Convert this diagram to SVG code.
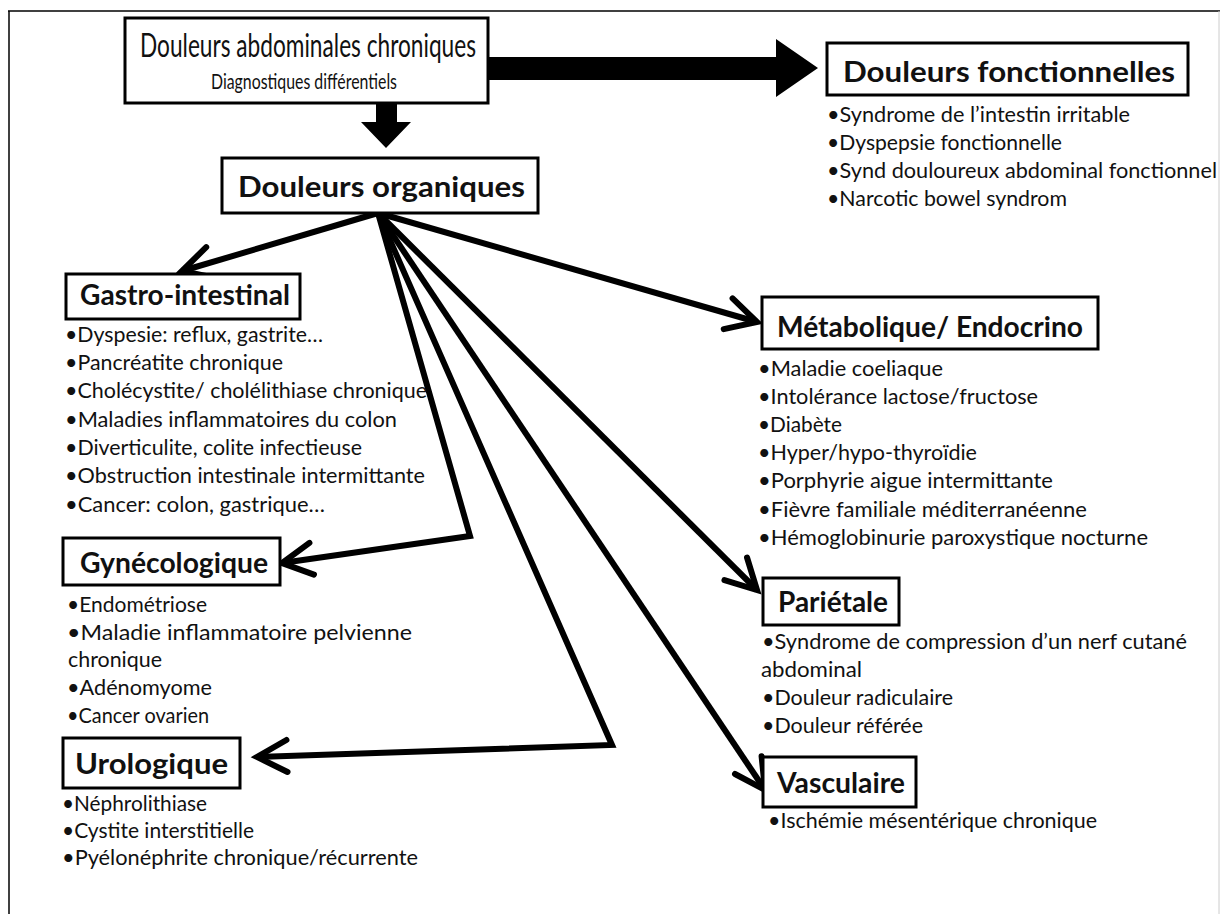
<svg xmlns="http://www.w3.org/2000/svg" width="1220" height="914" viewBox="0 0 1220 914">
<defs>
<style>
.box{fill:#fff;stroke:#000;stroke-width:3}
.hd{font-family:Lato,"Liberation Sans",sans-serif;font-weight:bold;font-size:29px;fill:#111}
.li{font-family:Lato,"Liberation Sans",sans-serif;font-size:21px;fill:#111}
.con{fill:none;stroke:#000;stroke-width:6;stroke-linejoin:miter;stroke-linecap:butt}
</style>
<marker id="chev" markerUnits="userSpaceOnUse" viewBox="-40 -25 50 50" markerWidth="50" markerHeight="50" refX="0" refY="0" orient="auto">
<path d="M -30 -16 L 0 0 L -30 16" fill="none" stroke="#000" stroke-width="6" stroke-linecap="round" stroke-linejoin="miter"/>
</marker>
</defs>
<rect width="1220" height="914" fill="#fff"/>
<g id="frame">
<line x1="8" y1="11" x2="1220" y2="11" stroke="#000" stroke-width="1.5"/>
<line x1="9" y1="11" x2="9" y2="914" stroke="#000" stroke-width="1.5"/>
<line x1="1219" y1="11" x2="1219" y2="914" stroke="#ccc" stroke-width="1"/>
</g>
<g id="connectors">
<polygon points="488,57 776,57 776,39 818,68 776,97 776,80 488,80" fill="#000"/>
<polygon points="376,103 397,103 397,122 411,122 386,148 361,122 376,122" fill="#000"/>
<path class="con" d="M 378 213 L 182 271" marker-end="url(#chev)"/>
<path class="con" d="M 378 213 L 757 322" marker-end="url(#chev)"/>
<path class="con" d="M 378 213 L 470 536 L 282 563" marker-end="url(#chev)"/>
<path class="con" d="M 378 213 L 612 745 L 257 757" marker-end="url(#chev)"/>
<path class="con" d="M 378 213 L 757 590" marker-end="url(#chev)"/>
<path class="con" d="M 378 213 L 765 790" marker-end="url(#chev)"/>
</g>
<g id="n-root">
<rect class="box" x="125" y="18" width="363" height="85"/>
<text x="140" y="57" font-family="Lato,'Liberation Sans',sans-serif" font-size="33" fill="#111" textLength="336" lengthAdjust="spacingAndGlyphs">Douleurs abdominales chroniques</text>
<text x="211" y="89" font-family="Lato,'Liberation Sans',sans-serif" font-size="21" fill="#111" textLength="186" lengthAdjust="spacingAndGlyphs">Diagnostiques différentiels</text>
</g>
<g id="n-fonct">
<rect class="box" x="827" y="43" width="361" height="52"/>
<text class="hd" x="843" y="82" font-size="32" textLength="332" lengthAdjust="spacingAndGlyphs">Douleurs fonctionnelles</text>
<text class="li" x="827" y="122" textLength="303" lengthAdjust="spacingAndGlyphs">•Syndrome de l’intestin irritable</text>
<text class="li" x="827" y="150" textLength="235" lengthAdjust="spacingAndGlyphs">•Dyspepsie fonctionnelle</text>
<text class="li" x="827" y="178" textLength="390" lengthAdjust="spacingAndGlyphs">•Synd douloureux abdominal fonctionnel</text>
<text class="li" x="827" y="206" textLength="240" lengthAdjust="spacingAndGlyphs">•Narcotic bowel syndrom</text>
</g>
<g id="n-org">
<rect class="box" x="222" y="158" width="316" height="55"/>
<text class="hd" x="238" y="197" font-size="31" textLength="287" lengthAdjust="spacingAndGlyphs">Douleurs organiques</text>
</g>
<g id="n-gastro">
<rect class="box" x="66" y="274" width="234" height="45"/>
<text class="hd" x="80" y="305" textLength="210" lengthAdjust="spacingAndGlyphs">Gastro-intestinal</text>
<text class="li" x="65" y="342" textLength="258" lengthAdjust="spacingAndGlyphs">•Dyspesie: reflux, gastrite…</text>
<text class="li" x="65" y="370" textLength="218" lengthAdjust="spacingAndGlyphs">•Pancréatite chronique</text>
<text class="li" x="65" y="398" textLength="362" lengthAdjust="spacingAndGlyphs">•Cholécystite/ cholélithiase chronique</text>
<text class="li" x="65" y="427" textLength="332" lengthAdjust="spacingAndGlyphs">•Maladies inflammatoires du colon</text>
<text class="li" x="65" y="455" textLength="297" lengthAdjust="spacingAndGlyphs">•Diverticulite, colite infectieuse</text>
<text class="li" x="65" y="483" textLength="360" lengthAdjust="spacingAndGlyphs">•Obstruction intestinale intermittante</text>
<text class="li" x="65" y="512" textLength="260" lengthAdjust="spacingAndGlyphs">•Cancer:  colon, gastrique…</text>
</g>
<g id="n-metab">
<rect class="box" x="762" y="297" width="336" height="52"/>
<text class="hd" x="777" y="337" font-size="31" textLength="306" lengthAdjust="spacingAndGlyphs">Métabolique/ Endocrino</text>
<text class="li" x="758" y="376" textLength="185" lengthAdjust="spacingAndGlyphs">•Maladie coeliaque</text>
<text class="li" x="758" y="404" textLength="280" lengthAdjust="spacingAndGlyphs">•Intolérance lactose/fructose</text>
<text class="li" x="758" y="432" textLength="84" lengthAdjust="spacingAndGlyphs">•Diabète</text>
<text class="li" x="758" y="460" textLength="219" lengthAdjust="spacingAndGlyphs">•Hyper/hypo-thyroïdie</text>
<text class="li" x="758" y="488" textLength="295" lengthAdjust="spacingAndGlyphs">•Porphyrie aigue intermittante</text>
<text class="li" x="758" y="517" textLength="329" lengthAdjust="spacingAndGlyphs">•Fièvre familiale méditerranéenne</text>
<text class="li" x="758" y="545" textLength="390" lengthAdjust="spacingAndGlyphs">•Hémoglobinurie paroxystique nocturne</text>
</g>
<g id="n-gyn">
<rect class="box" x="63" y="538" width="217" height="47"/>
<text class="hd" x="80" y="573" textLength="188" lengthAdjust="spacingAndGlyphs">Gynécologique</text>
<text class="li" x="67" y="612" textLength="140" lengthAdjust="spacingAndGlyphs">•Endométriose</text>
<text class="li" x="67" y="640" textLength="345" lengthAdjust="spacingAndGlyphs">•Maladie inflammatoire pelvienne</text>
<text class="li" x="68" y="667" textLength="94" lengthAdjust="spacingAndGlyphs">chronique</text>
<text class="li" x="67" y="695" textLength="145" lengthAdjust="spacingAndGlyphs">•Adénomyome</text>
<text class="li" x="67" y="723" textLength="142" lengthAdjust="spacingAndGlyphs">•Cancer ovarien</text>
</g>
<g id="n-parietale">
<rect class="box" x="763" y="578" width="136" height="47"/>
<text class="hd" x="778" y="612" textLength="110" lengthAdjust="spacingAndGlyphs">Pariétale</text>
<text class="li" x="762" y="649" textLength="425" lengthAdjust="spacingAndGlyphs">•Syndrome de compression d’un nerf cutané</text>
<text class="li" x="761" y="677" textLength="101" lengthAdjust="spacingAndGlyphs">abdominal</text>
<text class="li" x="762" y="705" textLength="191" lengthAdjust="spacingAndGlyphs">•Douleur radiculaire</text>
<text class="li" x="762" y="733" textLength="161" lengthAdjust="spacingAndGlyphs">•Douleur référée</text>
</g>
<g id="n-vasc">
<rect class="box" x="763" y="757" width="153" height="50"/>
<text class="hd" x="777" y="793" textLength="128" lengthAdjust="spacingAndGlyphs">Vasculaire</text>
<text class="li" x="768" y="828" textLength="329" lengthAdjust="spacingAndGlyphs">•Ischémie mésentérique chronique</text>
</g>
<g id="n-uro">
<rect class="box" x="63" y="738" width="177" height="50"/>
<text class="hd" x="75" y="774" font-size="31" textLength="153" lengthAdjust="spacingAndGlyphs">Urologique</text>
<text class="li" x="62" y="811" textLength="145" lengthAdjust="spacingAndGlyphs">•Néphrolithiase</text>
<text class="li" x="62" y="838" textLength="192" lengthAdjust="spacingAndGlyphs">•Cystite interstitielle</text>
<text class="li" x="62" y="865" textLength="356" lengthAdjust="spacingAndGlyphs">•Pyélonéphrite chronique/récurrente</text>
</g>
</svg>
